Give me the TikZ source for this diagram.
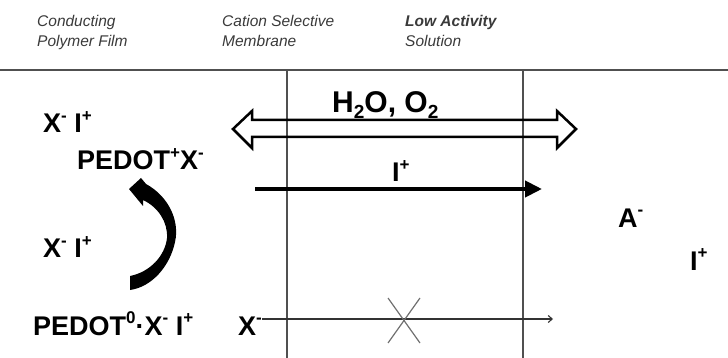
\documentclass[tikz,border=0pt]{standalone}
\usepackage{fontspec}
\setmainfont{Liberation Sans}
\usetikzlibrary{arrows.meta}
\definecolor{hdrgray}{HTML}{3A3A3A}
\definecolor{linegray}{HTML}{505050}
\definecolor{crossgray}{HTML}{707070}
\newcommand\supx[1]{\raisebox{0.42em}{\fontsize{17}{17}\selectfont #1}}
\newcommand\subx[1]{\raisebox{-6pt}{\fontsize{19}{19}\selectfont #1}}
\begin{document}
\begin{tikzpicture}[x=1pt,y=-1pt,
  hdr/.style={font=\fontsize{15.5}{20}\selectfont\itshape, text=hdrgray, inner sep=0pt, anchor=base west, align=left},
  lbl/.style={font=\fontsize{27}{30}\selectfont\bfseries, inner sep=0pt, anchor=base west},
  biglbl/.style={font=\fontsize{30}{32}\selectfont\bfseries, inner sep=0pt, anchor=base west},
  wall/.style={draw=linegray, line width=1.2pt},
  flow/.style={line width=4pt, -{Triangle[length=17pt,width=16pt]}},
  thinflow/.style={draw=black!80, line width=1.1pt, -{Straight Barb[length=4pt,width=7pt,line width=1.1pt]}},
  hollow/.style={draw=black, line width=2.5pt, line join=miter},
  crossline/.style={draw=crossgray, line width=1.2pt}]
\useasboundingbox (0,0) rectangle (728,358);
% header
\node[hdr] (hcp) at (37,47) {Conducting\\Polymer Film};
\node[hdr] (hcm) at (222,47) {Cation Selective\\Membrane};
\node[hdr] (hla) at (405,47) {\textbf{Low Activity}\\Solution};
% boundaries
\coordinate (hl) at (0,70);
\coordinate (hr) at (728,70);
\draw[draw=linegray, line width=2pt] (hl) -- (hr);
\coordinate (m1t) at (287,70);
\coordinate (m1b) at (287,358);
\coordinate (m2t) at (523,70);
\coordinate (m2b) at (523,358);
\draw[wall] (m1t) -- (m1b);
\draw[wall] (m2t) -- (m2b);
% left labels
\node[lbl] (xi1) at (43,133) {X\supx{-} I\supx{+}};
\node[lbl] (pedotp) at (77,170) {PEDOT\supx{+}X\supx{-}};
\node[lbl] (xi2) at (43,258) {X\supx{-} I\supx{+}};
\node[lbl] (pedot0) at (33,335) {PEDOT\supx{0}·X\supx{-} I\supx{+}};
\node[lbl] (xm) at (238,335) {X\supx{-}};
% right labels
\node[lbl] (am) at (618,227) {A\supx{-}};
\node[lbl] (ip) at (690,270) {I\supx{+}};
% hollow double arrow
\coordinate (dl) at (233,129);
\coordinate (dr) at (576,129);
\draw[hollow] (252,120) -- (252,111) -- (dl) -- (252,148) -- (252,137) -- (557,137)
  -- (557,148) -- (dr) -- (557,111) -- (557,120) -- cycle;
\node[biglbl] (h2o) at (332,113) {H\subx{2}O, O\subx{2}};
% cation flow
\coordinate (ia) at (255,189);
\coordinate (ib) at (542,189);
\draw[flow] (ia) -- (ib);
\node[lbl] (ilbl) at (392,182) {I\supx{+}};
% blocked anion flow
\coordinate (xend) at (553,319);
\draw[thinflow] (xm.east |- xend) -- (xend);
\draw[crossline] (388,298) -- (420,343);
\draw[crossline] (420,298) -- (388,343);
% curved redox arrow
\fill[black] (146,184) .. controls (168,196) and (180,220) .. (175,242)
  .. controls (170,266) and (152,287) .. (130,290)
  -- (130,276) .. controls (150,272) and (165,256) .. (167,238)
  .. controls (168,222) and (158,207) .. (143,200)
  -- (143,206) -- (129,189) -- (141,178) -- cycle;
\end{tikzpicture}
\end{document}
